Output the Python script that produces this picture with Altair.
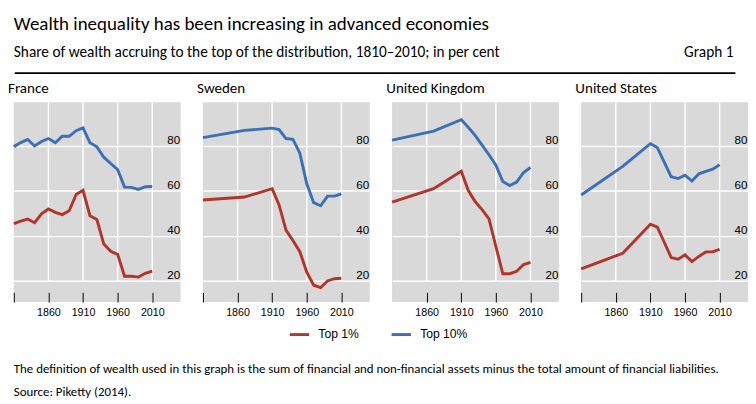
import altair as alt
import pandas as pd

# ---------------- text ----------------
TITLE = "Wealth inequality has been increasing in advanced economies"
SUBTITLE = "Share of wealth accruing to the top of the distribution, 1810\u20132010; in per cent"
GRAPH_LABEL = "Graph 1"
NOTE = ("The definition of wealth used in this graph is the sum of financial and "
        "non-financial assets minus the total amount of financial liabilities.")
SOURCE = "Source: Piketty (2014)."

series_names = ["Top 1%", "Top 10%"]
series_colors = ["#b2352b", "#3b6fb6"]

x_ticks = [1810, 1860, 1910, 1960, 2010]
x_grid = [1860, 1910, 1960, 2010]
y_ticks = [20, 40, 60, 80]

# ---------------- data ----------------
france_years = [1810, 1820, 1830, 1840, 1850, 1860, 1870, 1880, 1890, 1900, 1910,
                1920, 1930, 1940, 1950, 1960, 1970, 1980, 1990, 2000, 2010]
france_top1 = [45.5, 46.6, 47.5, 45.9, 49.8, 52.0, 50.5, 49.5, 51.2, 58.4, 60.3,
               49.0, 47.3, 36.4, 33.2, 31.8, 22.1, 22.1, 21.7, 23.4, 24.4]
france_top10 = [79.7, 81.5, 82.9, 80.0, 82.0, 83.3, 81.4, 84.3, 84.3, 86.8, 88.0,
                81.4, 79.6, 75.0, 72.2, 69.5, 61.7, 61.6, 60.7, 61.9, 62.0]

sweden_years = [1810, 1870, 1910, 1920, 1930, 1940, 1950, 1960, 1970, 1980, 1990, 2000, 2010]
sweden_top1 = [56.0, 57.3, 61.0, 53.8, 42.6, 38.0, 33.0, 23.9, 18.1, 17.0, 20.0, 21.0, 21.2]
sweden_top10 = [83.7, 86.9, 87.9, 87.3, 83.3, 82.9, 76.8, 63.2, 54.8, 53.4, 57.7, 57.7, 58.7]

uk_years = [1810, 1870, 1910, 1920, 1930, 1940, 1950, 1960, 1970, 1980, 1990, 2000, 2010]
uk_top1 = [55.0, 61.0, 68.8, 60.3, 55.3, 51.7, 47.6, 35.3, 23.2, 23.2, 24.3, 27.3, 28.3]
uk_top10 = [82.6, 86.6, 91.7, 88.3, 84.7, 80.4, 76.1, 71.4, 64.2, 62.4, 63.9, 68.2, 70.4]

us_years = [1810, 1870, 1910, 1920, 1930, 1940, 1950, 1960, 1970, 1980, 1990, 2000, 2010]
us_top1 = [25.4, 32.3, 45.2, 43.9, 37.2, 30.4, 29.7, 31.6, 28.6, 30.9, 32.9, 33.0, 34.0]
us_top10 = [58.2, 70.9, 81.0, 79.3, 72.8, 66.3, 65.5, 67.0, 64.4, 67.6, 68.7, 69.7, 71.6]

countries = ["France", "Sweden", "United Kingdom", "United States"]

# ---------------- style ----------------
FONT = "Carlito, Lato, sans-serif"
AXFONT = "Liberation Sans, Arial, sans-serif"
PANEL_W = 172
PANEL_H = 206

xscale = alt.Scale(domain=[1810, 2051], nice=False, zero=False)
yscale = alt.Scale(domain=[10.6, 99.4], nice=False, zero=False)

color_scale = alt.Scale(domain=series_names, range=series_colors)
legend = alt.Legend(orient="none", legendX=283, legendY=318, direction="horizontal",
                    title=None, symbolType="stroke", symbolSize=400, symbolStrokeWidth=3,
                    labelFont=AXFONT, labelFontSize=12.5, labelColor="black",
                    labelOffset=8, columnPadding=27, padding=0)


def panel(name, years, top1, top10, first_tick=True):
    df = pd.DataFrame({
        "year": years + years,
        "value": top1 + top10,
        "series": [series_names[0]] * len(years) + [series_names[1]] * len(years),
    })
    ticks = x_ticks if first_tick else x_ticks[1:]
    xaxis = alt.Axis(values=ticks, format="d",
                     labelExpr="datum.value == 1810 ? '' : datum.label",
                     grid=False, domain=False, tickSize=10, offset=-10,
                     tickColor="black", tickWidth=1, labelPadding=5,
                     labelFont=AXFONT, labelFontSize=11, labelColor="black", title=None)
    yaxis = alt.Axis(orient="right", values=y_ticks, grid=True, gridColor="white",
                     gridWidth=1.5, domain=False, ticks=False, labelAlign="right",
                     labelBaseline="bottom", offset=-1, labelPadding=0,
                     labelFont=AXFONT, labelFontSize=12, labelColor="black", title=None)
    grid_df = pd.DataFrame({"year": x_grid})
    vgrid = alt.Chart(grid_df).mark_rule(color="white", strokeWidth=1.5).encode(
        x=alt.X("year:Q", scale=xscale, axis=xaxis),
        y=alt.Y(datum=99.4, scale=yscale, axis=yaxis),
        y2=alt.Y2(datum=20),
    )
    lines = alt.Chart(df).mark_line(strokeWidth=3).encode(
        x=alt.X("year:Q", scale=xscale, axis=xaxis),
        y=alt.Y("value:Q", scale=yscale, axis=yaxis),
        color=alt.Color("series:N", scale=color_scale, legend=legend),
        order="year:Q",
    )
    return alt.layer(vgrid, lines).properties(
        width=PANEL_W, height=PANEL_H,
        title=alt.TitleParams(name, anchor="start", font=FONT, fontSize=15.5,
                              fontWeight="normal", color="black", offset=5),
        view=alt.ViewBackground(fill="#d9d9d9", stroke=None),
    )


panels = alt.hconcat(
    panel(countries[0], france_years, france_top1, france_top10),
    panel(countries[1], sweden_years, sweden_top1, sweden_top10),
    panel(countries[2], uk_years, uk_top1, uk_top10, first_tick=False),
    panel(countries[3], us_years, us_top1, us_top10),
    spacing=17,
)

# ---------------- header ----------------
header_df = pd.DataFrame({"title": [TITLE], "subtitle": [SUBTITLE], "graph": [GRAPH_LABEL]})
hb = alt.Chart(header_df)
h_title = hb.mark_text(align="left", baseline="alphabetic", font=FONT, fontSize=19.5,
                       color="black").encode(x=alt.value(0), y=alt.value(15), text="title:N")
h_sub = hb.mark_text(align="left", baseline="alphabetic", font=FONT, fontSize=15.8,
                     color="black").encode(x=alt.value(0), y=alt.value(43), text="subtitle:N")
h_graph = hb.mark_text(align="right", baseline="alphabetic", font=FONT, fontSize=15.8,
                       color="black").encode(x=alt.value(742), y=alt.value(43), text="graph:N")
h_line = hb.mark_rule(color="black", strokeWidth=1.8).encode(
    x=alt.value(1), x2=alt.value(744), y=alt.value(60))
header = alt.layer(h_title, h_sub, h_graph, h_line).properties(width=744, height=67.7)

# ---------------- footer ----------------
footer_df = pd.DataFrame({"note": [NOTE], "source": [SOURCE]})
fb = alt.Chart(footer_df)
f_note = fb.mark_text(align="left", baseline="alphabetic", font=FONT, fontSize=13.3,
                      color="black").encode(x=alt.value(0), y=alt.value(57), text="note:N")
f_src = fb.mark_text(align="left", baseline="alphabetic", font=FONT, fontSize=13.3,
                     color="black").encode(x=alt.value(0), y=alt.value(81), text="source:N")
footer = alt.layer(f_note, f_src).properties(width=744, height=88)

chart = alt.vconcat(header, panels, footer, spacing=0).properties(
    padding=0
).configure_view(stroke=None)

chart.save("out.html", embed_options={"renderer": "svg", "actions": False})
